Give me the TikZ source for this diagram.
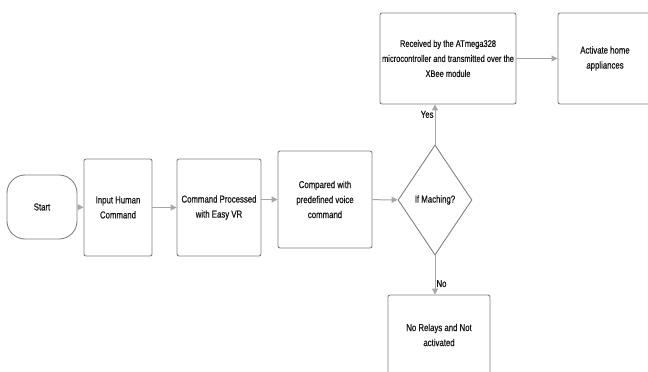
\documentclass[tikz,border=0pt]{standalone}
\usepackage{fontspec}
\newfontfamily\flowfont[FakeStretch=0.78,FakeBold=0.8]{Liberation Sans}
\usetikzlibrary{shapes.geometric}
\usetikzlibrary{arrows.meta}
\usetikzlibrary{positioning}

\tikzset{
  every node/.style={font=\flowfont\fontsize{10}{15}\selectfont,text=black!90},
  stepbox/.style={draw=black!50,line width=0.9pt,rounded corners=2pt,align=center,inner sep=2pt},
  flow/.style={draw=black!35,line width=1pt,-{Triangle[width=6pt,length=6pt]}},
  flowlabel/.style={inner sep=1pt,font=\flowfont\fontsize{10}{12}\selectfont}
}

\begin{document}
\begin{tikzpicture}[x=1pt,y=-1pt]
\useasboundingbox (0,0) rectangle (648,372);
\clip (0,0) rectangle (648,372);

% main row
\node[stepbox,rounded corners=18pt,minimum width=70pt,minimum height=64pt] (start) at (42,207) {Start};
\node[stepbox,minimum width=68pt,minimum height=97pt] (input) at (118,207.5) {Input Human\\Command};
\node[stepbox,minimum width=84pt,minimum height=97pt] (process) at (219,207.5) {Command Processed\\with Easy VR};
\node[stepbox,minimum width=94pt,minimum height=97pt] (compare) at (325,199.5) {Compared with\\predefined voice\\command};
\node[diamond,draw=black!50,line width=0.9pt,inner sep=0pt,aspect=0.67,minimum width=74pt,minimum height=110pt] (match) at (435,200) {If Maching?};

% branches
\node[stepbox,minimum width=136pt,minimum height=91pt,font=\flowfont\fontsize{9.6}{15}\selectfont] (receive) at (448,58.5) {Received by the ATmega328\\microcontroller and transmitted over the\\XBee module};
\node[stepbox,minimum width=94pt,minimum height=91pt] (activate) at (605,58.5) {Activate home\\appliances};
\node[stepbox,minimum width=102pt,minimum height=80pt] (norelay) at (439,335) {No Relays and Not\\activated};

\draw[flow] (start) -- (input);
\draw[flow] (input) -- (process);
\draw[flow] (process.east |- compare) -- (compare);
\draw[flow] (compare) -- (match);
\draw[flow] (match.north) -- (match.north |- receive.south) node[flowlabel,pos=0.75,left] {Yes};
\draw[flow] (receive) -- (activate);
\draw[flow] (match.south) -- (match.south |- norelay.north) node[flowlabel,pos=0.72,right] {No};
\end{tikzpicture}
\end{document}
